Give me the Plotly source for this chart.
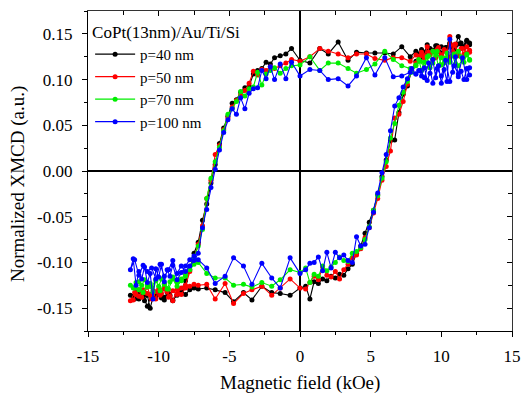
import plotly.graph_objects as go

# ---------------- data ----------------
# descending branch (upper), field from +12 to -12 kOe
FIELD_DOWN = [12.0, 11.8, 11.6, 11.4, 11.2, 11.0, 10.8, 10.6, 10.4, 10.2,
              10.0, 9.8, 9.6, 9.4, 9.2, 9.0, 8.8, 8.6, 8.4, 8.2,
              7.8, 7.2, 6.6, 6.0, 5.3, 4.7, 4.0, 3.4, 2.7, 2.0, 1.4, 0.7, 0.0, -0.6,
              -1.0, -1.4, -1.8, -2.1, -2.4, -2.7, -3.0, -3.3, -3.6, -3.9, -4.2, -4.5,
              -4.8, -5.1, -5.4, -5.7, -6.0, -6.3, -6.6, -6.9, -7.2, -7.5, -7.8, -8.1,
              -8.4, -8.7, -9.0, -9.3, -9.6, -9.9, -10.2, -10.5, -10.8, -11.1, -11.4, -11.7, -12.0]
# ascending branch (lower), field from -12 to +12 kOe
FIELD_UP = [-11.8, -11.6, -11.4, -11.2, -11.0, -10.8, -10.6, -10.4, -10.2, -10.0,
            -9.8, -9.6, -9.4, -9.2, -9.0, -8.7, -8.4, -8.1, -7.8, -7.5,
            -7.2, -6.6, -6.0, -5.3, -4.7, -4.0, -3.4, -2.7, -2.0, -1.4, -0.7, 0.0,
            0.4, 0.7, 1.0, 1.3, 1.6, 1.9, 2.2, 2.5, 2.8, 3.1, 3.4, 3.7, 4.0, 4.3,
            4.6, 4.9, 5.2, 5.5, 5.8, 6.1, 6.4, 6.7, 7.0, 7.3, 7.6, 7.9, 8.2,
            8.5, 8.8, 9.1, 9.4, 9.7, 10.0, 10.3, 10.6, 10.9, 11.2, 11.5, 11.8, 12.0]

P40_DOWN = [0.138, 0.142, 0.135, 0.140, 0.147, 0.137, 0.134, 0.139, 0.135, 0.133,
            0.136, 0.131, 0.137, 0.132, 0.134, 0.138, 0.130, 0.133, 0.128, 0.131,
            0.125, 0.136, 0.128, 0.129, 0.129, 0.129, 0.130, 0.121, 0.141, 0.128, 0.134, 0.118, 0.121, 0.134,
            0.128, 0.126, 0.124, 0.117, 0.119, 0.112, 0.110, 0.106, 0.093, 0.091, 0.086, 0.078,
            0.074, 0.060, 0.047, 0.030, 0.007, -0.013, -0.036, -0.054, -0.078, -0.090, -0.108, -0.120,
            -0.130, -0.136, -0.141, -0.134, -0.138, -0.131, -0.139, -0.135, -0.148, -0.137, -0.133, -0.140, -0.136]
P40_UP = [-0.137, -0.133, -0.140, -0.135, -0.142, -0.136, -0.150, -0.138, -0.134, -0.132,
          -0.139, -0.141, -0.133, -0.136, -0.142, -0.135, -0.131, -0.135, -0.130, -0.128,
          -0.129, -0.128, -0.130, -0.133, -0.143, -0.133, -0.141, -0.126, -0.133, -0.134, -0.136, -0.128,
          -0.126, -0.140, -0.121, -0.123, -0.118, -0.120, -0.115, -0.117, -0.113, -0.114, -0.107, -0.102,
          -0.090, -0.082, -0.068, -0.056, -0.043, -0.026, -0.006, 0.012, 0.033, 0.034, 0.064, 0.084,
          0.093, 0.110, 0.120,
          0.122, 0.128, 0.134, 0.131, 0.137, 0.129, 0.135, 0.140, 0.133, 0.139, 0.136, 0.143, 0.140]

P50_DOWN = [0.130, 0.136, 0.128, 0.134, 0.126, 0.139, 0.131, 0.147, 0.129, 0.133,
            0.127, 0.135, 0.124, 0.131, 0.128, 0.136, 0.126, 0.130, 0.122, 0.127,
            0.120, 0.124, 0.124, 0.121, 0.123, 0.128, 0.128, 0.124, 0.128, 0.131, 0.134, 0.125, 0.120, 0.122,
            0.118, 0.115, 0.112, 0.114, 0.110, 0.111, 0.105, 0.109, 0.096, 0.088, 0.083, 0.077,
            0.070, 0.058, 0.045, 0.028, 0.018, -0.010, -0.030, -0.060, -0.080, -0.096, -0.110, -0.125,
            -0.128, -0.135, -0.131, -0.138, -0.129, -0.136, -0.132, -0.140, -0.134, -0.130, -0.137, -0.133, -0.142]
P50_UP = [-0.141, -0.135, -0.130, -0.138, -0.133, -0.127, -0.136, -0.131, -0.140, -0.129,
          -0.134, -0.127, -0.132, -0.137, -0.142, -0.130, -0.135, -0.128, -0.126, -0.124,
          -0.125, -0.124, -0.140, -0.123, -0.145, -0.134, -0.130, -0.126, -0.136, -0.128, -0.118, -0.128,
          -0.129, -0.122, -0.115, -0.119, -0.105, -0.114, -0.116, -0.110, -0.118, -0.108, -0.102, -0.095,
          -0.092, -0.085, -0.073, -0.062, -0.046, -0.030, -0.010, 0.005, 0.022, 0.058, 0.062, 0.076,
          0.095, 0.110, 0.118,
          0.126, 0.124, 0.130, 0.122, 0.133, 0.127, 0.131, 0.125, 0.138, 0.128, 0.134, 0.129, 0.132]

P70_DOWN = [0.122, 0.128, 0.119, 0.125, 0.131, 0.117, 0.126, 0.120, 0.129, 0.118,
            0.124, 0.115, 0.127, 0.131, 0.113, 0.125, 0.119, 0.110, 0.122, 0.116,
            0.112, 0.115, 0.122, 0.131, 0.117, 0.111, 0.107, 0.112, 0.118, 0.118, 0.110, 0.125, 0.116, 0.115,
            0.112, 0.107, 0.113, 0.110, 0.106, 0.094, 0.108, 0.092, 0.090, 0.082, 0.087, 0.076,
            0.068, 0.062, 0.044, 0.026, 0.010, -0.008, -0.030, -0.064, -0.082, -0.095, -0.105, -0.115,
            -0.120, -0.126, -0.118, -0.129, -0.123, -0.131, -0.119, -0.127, -0.124, -0.133, -0.121, -0.128, -0.125]
P70_UP = [-0.128, -0.122, -0.130, -0.125, -0.119, -0.127, -0.123, -0.132, -0.120, -0.126,
          -0.118, -0.124, -0.129, -0.121, -0.116, -0.122, -0.118, -0.113, -0.108, -0.102,
          -0.100, -0.112, -0.117, -0.117, -0.125, -0.124, -0.127, -0.122, -0.126, -0.119, -0.108, -0.111,
          -0.106, -0.122, -0.113, -0.115, -0.104, -0.109, -0.105, -0.100, -0.094, -0.098, -0.099, -0.090,
          -0.088, -0.084, -0.075, -0.061, -0.043, -0.027, -0.008, 0.010, 0.036, 0.052, 0.072, 0.086,
          0.098, 0.108, 0.115,
          0.120, 0.113, 0.126, 0.118, 0.131, 0.116, 0.124, 0.119, 0.128, 0.115, 0.122, 0.127, 0.121]

P100_DOWN = [0.105, 0.112, 0.100, 0.109, 0.103, 0.125, 0.108, 0.144, 0.098, 0.111,
             0.096, 0.115, 0.102, 0.122, 0.107, 0.099, 0.113, 0.104, 0.110, 0.106,
             0.108, 0.104, 0.103, 0.124, 0.105, 0.124, 0.104, 0.093, 0.101, 0.100, 0.110, 0.111, 0.104, 0.119,
             0.101, 0.117, 0.100, 0.114, 0.101, 0.110, 0.091, 0.090, 0.085, 0.068, 0.080, 0.062,
             0.068, 0.056, 0.042, 0.023, 0.002, -0.018, -0.042, -0.062, -0.090, -0.098, -0.104, -0.110,
             -0.104, -0.112, -0.098, -0.108, -0.115, -0.102, -0.118, -0.106, -0.110, -0.103, -0.114, -0.097, -0.108]
P100_UP = [-0.096, -0.125, -0.110, -0.118, -0.105, -0.122, -0.112, -0.140, -0.107, -0.116,
           -0.102, -0.121, -0.108, -0.115, -0.103, -0.119, -0.111, -0.104, -0.097, -0.093,
           -0.097, -0.106, -0.123, -0.115, -0.095, -0.104, -0.124, -0.101, -0.117, -0.128, -0.095, -0.112,
           -0.108, -0.101, -0.100, -0.094, -0.109, -0.089, -0.106, -0.089, -0.095, -0.092, -0.098, -0.100,
           -0.072, -0.082, -0.080, -0.062, -0.045, -0.024, -0.002, 0.018, 0.044, 0.071, 0.080, 0.092,
           0.101, 0.112, 0.106,
           0.110, 0.102, 0.118, 0.096, 0.112, 0.104, 0.121, 0.098, 0.115, 0.106, 0.124, 0.100, 0.113]

SERIES_NAMES = ["p=40 nm", "p=50 nm", "p=70 nm", "p=100 nm"]
SERIES_DOWN = [P40_DOWN, P50_DOWN, P70_DOWN, P100_DOWN]
SERIES_UP = [P40_UP, P50_UP, P70_UP, P100_UP]
COLORS = ["#000000", "#ff0000", "#00ee00", "#0000ff"]

X_TICKS = [-15, -10, -5, 0, 5, 10, 15]
Y_TICKS = [-0.15, -0.10, -0.05, 0.00, 0.05, 0.10, 0.15]
Y_TICK_TEXT = ["-0.15", "-0.10", "-0.05", "0.00", "0.05", "0.10", "0.15"]

FONT = "Liberation Serif, Times New Roman, serif"

fig = go.Figure()
for name, yd, yu, col in zip(SERIES_NAMES, SERIES_DOWN, SERIES_UP, COLORS):
    fig.add_trace(go.Scatter(
        x=FIELD_DOWN + FIELD_UP, y=yd + yu, name=name, mode="lines+markers",
        line=dict(color=col, width=1.1),
        marker=dict(color=col, size=5),
    ))

# dummy trace for mirrored top/right axes
fig.add_trace(go.Scatter(x=[None], y=[None], xaxis="x2", yaxis="y2",
                         showlegend=False, hoverinfo="skip"))

XR = [-15, 15]
YR = [-0.175, 0.175]

# the page body adds an 8px offset, so the figure is sized to fit the window
fig.update_layout(
    width=523, height=386,
    margin=dict(l=80, r=19, t=3, b=63, autoexpand=False),
    paper_bgcolor="white", plot_bgcolor="white",
    font=dict(family=FONT, size=17, color="black"),
    showlegend=True,
    legend=dict(
        x=0.005, y=0.985, xanchor="left", yanchor="top",
        bgcolor="rgba(0,0,0,0)", borderwidth=0,
        font=dict(family=FONT, size=15),
        title=dict(text="CoPt(13nm)/Au/Ti/Si", font=dict(family=FONT, size=17)),
        tracegroupgap=0, itemwidth=40,
    ),
    xaxis=dict(
        range=XR, tickvals=X_TICKS, ticktext=[str(v) for v in X_TICKS],
        ticks="outside", ticklen=5, tickwidth=1.2, tickcolor="black",
        minor=dict(dtick=2.5, tick0=0, ticks="outside", ticklen=3, tickwidth=1.2, tickcolor="black"),
        showline=True, linecolor="black", linewidth=1.3,
        showgrid=False, zeroline=True, zerolinecolor="black", zerolinewidth=1.6,
        tickfont=dict(family=FONT, size=17),
        ticklabelstandoff=4, automargin=False,
    ),
    yaxis=dict(
        range=YR, tickvals=Y_TICKS, ticktext=Y_TICK_TEXT,
        ticks="outside", ticklen=5, tickwidth=1.2, tickcolor="black",
        minor=dict(dtick=0.025, tick0=0, ticks="outside", ticklen=3, tickwidth=1.2, tickcolor="black"),
        showline=True, linecolor="black", linewidth=1.3,
        showgrid=False, zeroline=True, zerolinecolor="black", zerolinewidth=1.6,
        tickfont=dict(family=FONT, size=17),
        ticklabelstandoff=6, automargin=False,
    ),
    xaxis2=dict(
        overlaying="x", side="top", range=XR, tickvals=X_TICKS, showticklabels=False,
        ticks="inside", ticklen=5, tickwidth=1.2, tickcolor="black",
        minor=dict(dtick=2.5, tick0=0, ticks="inside", ticklen=4, tickwidth=1.2, tickcolor="black"),
        showline=True, linecolor="#333333", linewidth=1.2, showgrid=False, zeroline=False,
        automargin=False,
    ),
    yaxis2=dict(
        overlaying="y", side="right", range=YR, tickvals=Y_TICKS, showticklabels=False,
        ticks="inside", ticklen=5, tickwidth=1.2, tickcolor="black",
        minor=dict(dtick=0.025, tick0=0, ticks="inside", ticklen=4, tickwidth=1.2, tickcolor="black"),
        showline=True, linecolor="#333333", linewidth=1.2, showgrid=False, zeroline=False,
        automargin=False,
    ),
    annotations=[
        dict(text="Magnetic field (kOe)", xref="paper", yref="paper", x=0.5, y=0,
             xanchor="center", yanchor="middle", yshift=-52, showarrow=False,
             font=dict(family=FONT, size=19)),
        dict(text="Normalized XMCD (a.u.)", xref="paper", yref="paper", x=0, y=0.5,
             xanchor="center", yanchor="middle", xshift=-70, yshift=-13, textangle=-90,
             showarrow=False, font=dict(family=FONT, size=19)),
    ],
)

fig.write_html("out.html")
